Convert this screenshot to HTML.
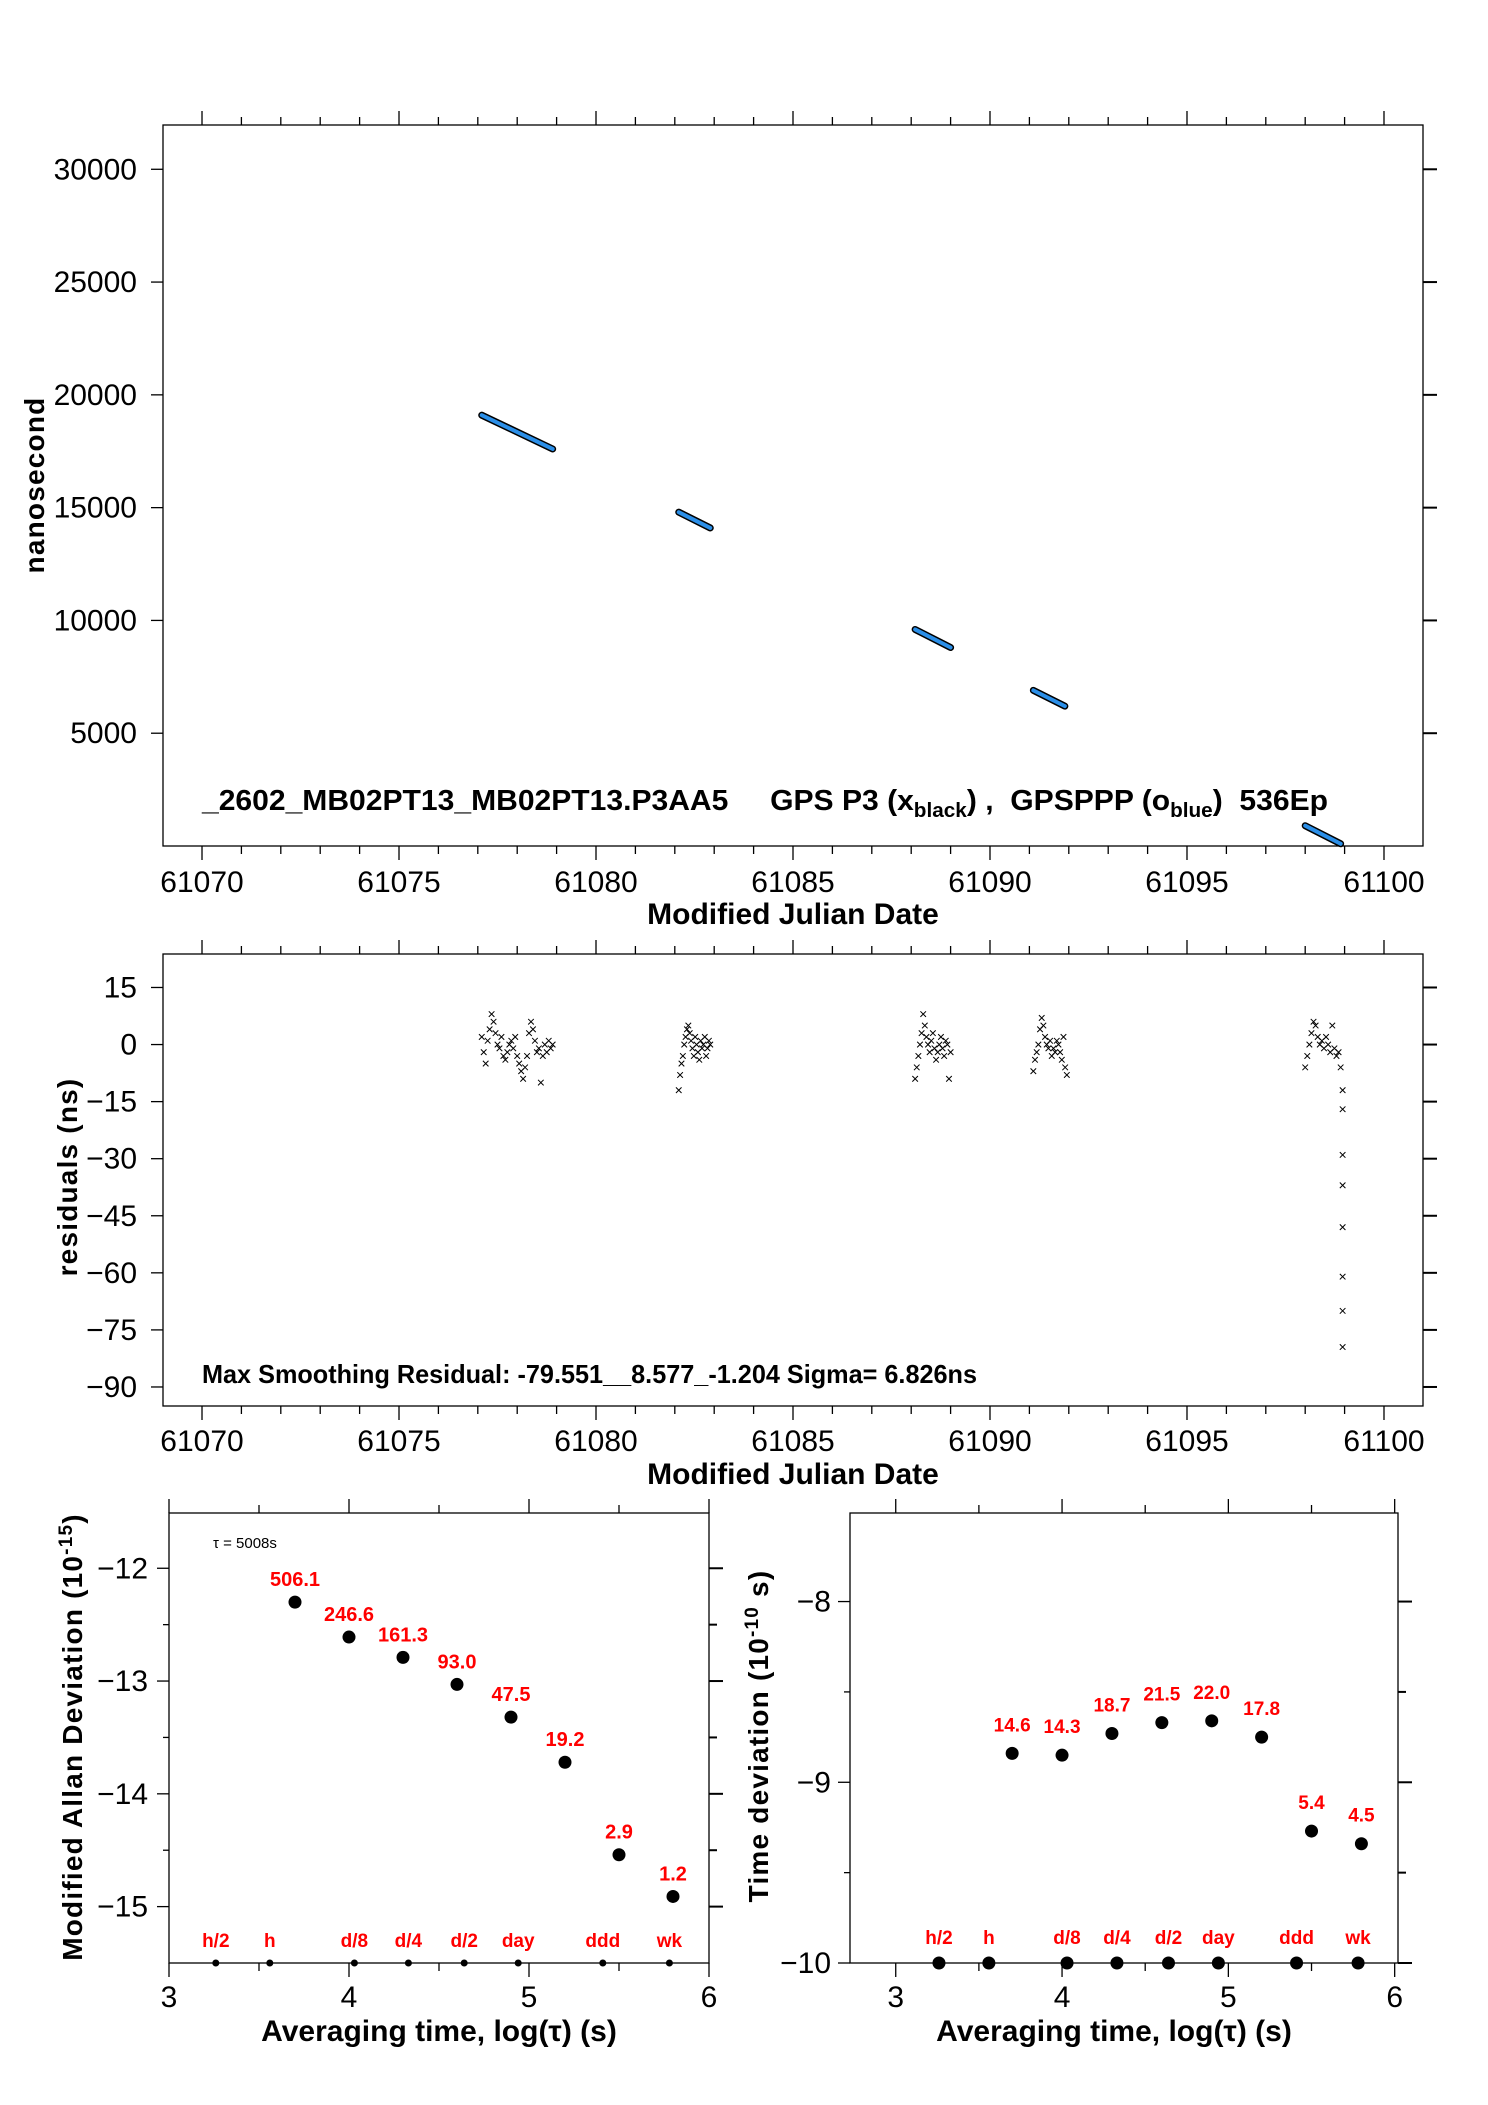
<!DOCTYPE html>
<html><head><meta charset="utf-8">
<style>
html,body{margin:0;padding:0;background:#fff;}
svg{display:block;font-family:"Liberation Sans",Arial,sans-serif;}
</style></head>
<body>
<svg id="fig" width="1488" height="2105" viewBox="0 0 1488 2105" xmlns="http://www.w3.org/2000/svg"></svg>
<script>
// ---------- data ----------
const segStartMjd = [61077.1, 61082.1, 61088.1, 61091.1, 61098.0];
const segEndMjd   = [61078.9, 61082.9, 61089.0, 61091.9, 61098.9];
const segStartNs  = [19100, 14800, 9600, 6900, 900];
const segEndNs    = [17600, 14100, 8800, 6200, 100];

const resC1 = [2,-2,-5,1,4,8,6,3,0,-1,2,-3,-4,-2,0,1,-1,2,-3,-5,-7,-9,-6,-3,3,6,4,1,-2,-1,-10,-3,0,-2,1,-1,0];
const resC2 = [-12,-8,-5,-3,0,2,4,5,3,1,-1,-3,2,0,-2,-4,1,-1,0,2,-3,-1,1,0];
const resC3 = [-9,-6,-3,0,3,8,5,2,0,-2,1,3,-1,-4,-2,0,2,-1,-3,1,0,-9,-2];
const resC4 = [-7,-4,-2,0,4,7,5,2,0,-1,1,-3,-1,-2,1,0,-2,-4,2,-6,-8];
const resC5 = [-6,-3,0,3,6,5,2,0,1,-1,2,0,-2,5,-1,-3,-2,-6];
const resOutliers = [-12,-17,-29,-37,-48,-61,-70,-79.5];
const resOutlierMjd = 61098.95;

const adevLogTau = [3.7,4.0,4.3,4.6,4.9,5.2,5.5,5.8];
const adevVals   = [-12.30,-12.61,-12.79,-13.03,-13.32,-13.72,-14.54,-14.91];
const adevLabels = ["506.1","246.6","161.3","93.0","47.5","19.2","2.9","1.2"];
const tdevVals   = [-8.84,-8.85,-8.73,-8.67,-8.66,-8.75,-9.27,-9.34];
const tdevLabels = ["14.6","14.3","18.7","21.5","22.0","17.8","5.4","4.5"];
const markLogTau = [3.26,3.56,4.03,4.33,4.64,4.94,5.41,5.78];
const markLabels = ["h/2","h","d/8","d/4","d/2","day","ddd","wk"];

const mjdTicks = [61070,61075,61080,61085,61090,61095,61100];
const nsTicks = [5000,10000,15000,20000,25000,30000];
const resTicks = [15,0,-15,-30,-45,-60,-75,-90];
const adevTicks = [-12,-13,-14,-15];
const tdevTicks = [-8,-9,-10];
const logTicks = [3,4,5,6];

// ---------- helpers ----------
const NS="http://www.w3.org/2000/svg";
const svg=document.getElementById('fig');
function mk(tag,attrs,parent){const e=document.createElementNS(NS,tag);for(const k in attrs)e.setAttribute(k,attrs[k]);(parent||svg).appendChild(e);return e;}
function txt(s,attrs,parent){const e=mk('text',attrs,parent);e.textContent=s;return e;}
function scaler(P){return{x:v=>P.l+(v-P.x0)/(P.x1-P.x0)*(P.r-P.l),y:v=>P.b-(v-P.y0)/(P.y1-P.y0)*(P.b-P.t)};}

const P1={l:163,r:1423,t:125,b:846,x0:61069.01,x1:61100.99,y0:0,y1:31963};
const P2={l:163,r:1423,t:954,b:1406,x0:61069.01,x1:61100.99,y0:-95,y1:23.8};
const P3={l:169,r:709,t:1513,b:1963,x0:3,x1:6,y0:-15.5,y1:-11.51};
const P4={l:850,r:1398,t:1513,b:1963,x0:2.725,x1:6.02,y0:-10,y1:-7.51};

function frame(P,name){
  const r=mk('rect',{x:P.l,y:P.t,width:P.r-P.l,height:P.b-P.t,fill:'none',stroke:'#000','stroke-width':1.3});
  
  
}

function mjdAxis(P,S,gname,lblY,titleY){
  const g=mk('g',{});
  
  
  for(let d=61070;d<=61100;d++){
    const x=S.x(d);const len=(d%5===0)?14:8;
    mk('line',{x1:x,y1:P.t,x2:x,y2:P.t-len,stroke:'#000','stroke-width':1.3},g);
    mk('line',{x1:x,y1:P.b,x2:x,y2:P.b+len,stroke:'#000','stroke-width':1.3},g);
  }
  mjdTicks.forEach(v=>{
    const t=txt(String(v),{x:S.x(v),y:lblY,'font-size':30,'text-anchor':'middle'},g);
    
    
  });
  const xl=txt('Modified Julian Date',{x:(P.l+P.r)/2,y:titleY,'font-size':30,'font-weight':'bold','text-anchor':'middle'});
  
  
}
function yAxis(P,S,ticks,minor,gname,gap){
  const g=mk('g',{});
  
  
  ticks.forEach(v=>{
    const y=S.y(v);
    mk('line',{x1:P.l,y1:y,x2:P.l-12,y2:y,stroke:'#000','stroke-width':1.3},g);
    mk('line',{x1:P.r,y1:y,x2:P.r+14,y2:y,stroke:'#000','stroke-width':2},g);
    const t=txt(String(v).replace('-','\u2212'),{x:P.l-gap,y:y+10,'font-size':30,'text-anchor':'end'},g);
    
    
  });
  (minor||[]).forEach(v=>{
    const y=S.y(v);
    mk('line',{x1:P.r,y1:y,x2:P.r+8,y2:y,stroke:'#000','stroke-width':2},g);
    mk('line',{x1:P.l,y1:y,x2:P.l-6,y2:y,stroke:'#000','stroke-width':1.3},g);
  });
}
function logAxis(P,S,gname){
  const g=mk('g',{});
  
  
  for(let v=3;v<=6.001;v+=0.5){
    const x=S.x(v);const len=(Math.abs(v-Math.round(v))<0.01)?14:8;
    mk('line',{x1:x,y1:P.t,x2:x,y2:P.t-len,stroke:'#000','stroke-width':1.3},g);
    mk('line',{x1:x,y1:P.b,x2:x,y2:P.b+len,stroke:'#000','stroke-width':1.3},g);
  }
  logTicks.forEach(v=>{
    const t=txt(String(v),{x:S.x(v),y:2007,'font-size':30,'text-anchor':'middle'},g);
    
    
  });
  const xl=txt('Averaging time, log(\u03C4) (s)',{x:(P.l+P.r)/2+(P===P4?-10:0),y:2041,'font-size':30,'font-weight':'bold','text-anchor':'middle'});
  
  
}

// ---------- panel 1 ----------
const S1=scaler(P1);
frame(P1,'time-offset-plot-frame');
mjdAxis(P1,S1,'mjd-axis-top-plot',892,924);
yAxis(P1,S1,nsTicks,[],'ns-y-axis',26);
{const t=txt('nanosecond',{x:0,y:0,'font-size':28,'font-weight':'bold','text-anchor':'middle','letter-spacing':1.2,transform:'translate(44,485) rotate(-90)'});

}
segStartMjd.forEach((m,i)=>{
  const x1=S1.x(m),y1=S1.y(segStartNs[i]),x2=S1.x(segEndMjd[i]),y2=S1.y(segEndNs[i]);
  const bk=mk('line',{x1,y1,x2,y2,stroke:'#000','stroke-width':7,'stroke-linecap':'round'});
  
  
  const bl=mk('line',{x1,y1,x2,y2,stroke:'#2b8fe8','stroke-width':4,'stroke-linecap':'round'});
  
  
});
{const t=mk('text',{x:202,y:810,'font-size':29,'font-weight':'bold',textLength:1126,lengthAdjust:'spacingAndGlyphs'});


t.innerHTML='_2602_MB02PT13_MB02PT13.P3AA5\u00A0\u00A0\u00A0\u00A0 GPS P3 (x<tspan font-size="20" dy="7">black</tspan><tspan dy="-7">) ,\u00A0 GPSPPP (o</tspan><tspan font-size="20" dy="7">blue</tspan><tspan dy="-7">)\u00A0 536Ep</tspan>';}

// ---------- panel 2 ----------
const S2=scaler(P2);
frame(P2,'residuals-plot-frame');
mjdAxis(P2,S2,'mjd-axis-residuals',1451,1484);
yAxis(P2,S2,resTicks,[],'residuals-y-axis',26);
{const t=txt('residuals (ns)',{x:0,y:0,'font-size':28,'font-weight':'bold','text-anchor':'middle','letter-spacing':1.2,transform:'translate(77,1177) rotate(-90)'});

}
function cross(x,y){const s=2.8;const p=mk('path',{d:`M${x-s},${y-s}L${x+s},${y+s}M${x-s},${y+s}L${x+s},${y-s}`,stroke:'#000','stroke-width':1,fill:'none'});return p;}
function cluster(vals,m0,m1){vals.forEach((v,i)=>{const m=m0+(m1-m0)*i/(vals.length-1);const p=cross(S2.x(m),S2.y(v));

});}
cluster(resC1,61077.1,61078.9);
cluster(resC2,61082.1,61082.9);
cluster(resC3,61088.1,61089.0);
cluster(resC4,61091.1,61091.95);
cluster(resC5,61098.0,61098.9);
resOutliers.forEach(v=>{const p=cross(S2.x(resOutlierMjd),S2.y(v));

});
{const t=txt('Max Smoothing Residual: -79.551__8.577_-1.204  Sigma= 6.826ns',{x:202,y:1383,'font-size':26,'font-weight':'bold','xml:space':'preserve',textLength:775,lengthAdjust:'spacingAndGlyphs'});

}

// ---------- panel 3 ----------
const S3=scaler(P3);
frame(P3,'mdev-plot-frame');
logAxis(P3,S3,'mdev-x-axis');
yAxis(P3,S3,adevTicks,[-12.5,-13.5,-14.5],'mdev-y-axis',21);
{const t=mk('text',{x:0,y:0,'font-size':28,'font-weight':'bold','text-anchor':'middle','letter-spacing':1.2,transform:'translate(82,1737) rotate(-90)'});


t.innerHTML='Modified Allan Deviation (10<tspan font-size="19" dy="-10">-15</tspan><tspan dy="10">)</tspan>';}
{const t=txt('\u03C4 = 5008s',{x:213,y:1548,'font-size':15});

}
adevLogTau.forEach((v,i)=>{
  const c=mk('circle',{cx:S3.x(v),cy:S3.y(adevVals[i]),r:6.5,fill:'#000'});
  
  
  const t=txt(adevLabels[i],{x:S3.x(v),y:S3.y(adevVals[i])-16,'font-size':20,'font-weight':'bold',fill:'#ff0000','text-anchor':'middle'});
  
  
});
markLogTau.forEach((v,i)=>{
  const c=mk('circle',{cx:S3.x(v),cy:P3.b,r:3.5,fill:'#000'});
  
  
  const t=txt(markLabels[i],{x:S3.x(v),y:P3.b-16,'font-size':19,'font-weight':'bold',fill:'#ff0000','text-anchor':'middle'});
  
  
});

// ---------- panel 4 ----------
const S4=scaler(P4);
frame(P4,'tdev-plot-frame');
logAxis(P4,S4,'tdev-x-axis');
yAxis(P4,S4,tdevTicks,[-8.5,-9.5],'tdev-y-axis',19);
{const t=mk('text',{x:0,y:0,'font-size':28,'font-weight':'bold','text-anchor':'middle','letter-spacing':1.2,transform:'translate(768,1736) rotate(-90)'});


t.innerHTML='Time deviation (10<tspan font-size="19" dy="-10">-10</tspan><tspan dy="10"> s)</tspan>';}
adevLogTau.forEach((v,i)=>{
  const c=mk('circle',{cx:S4.x(v),cy:S4.y(tdevVals[i]),r:6.5,fill:'#000'});
  
  
  const t=txt(tdevLabels[i],{x:S4.x(v),y:S4.y(tdevVals[i])-22,'font-size':19,'font-weight':'bold',fill:'#ff0000','text-anchor':'middle'});
  
  
});
markLogTau.forEach((v,i)=>{
  const c=mk('circle',{cx:S4.x(v),cy:P4.b,r:6.5,fill:'#000'});
  
  
  const t=txt(markLabels[i],{x:S4.x(v),y:P4.b-19,'font-size':19,'font-weight':'bold',fill:'#ff0000','text-anchor':'middle'});
  
  
});
</script>
</body></html>
